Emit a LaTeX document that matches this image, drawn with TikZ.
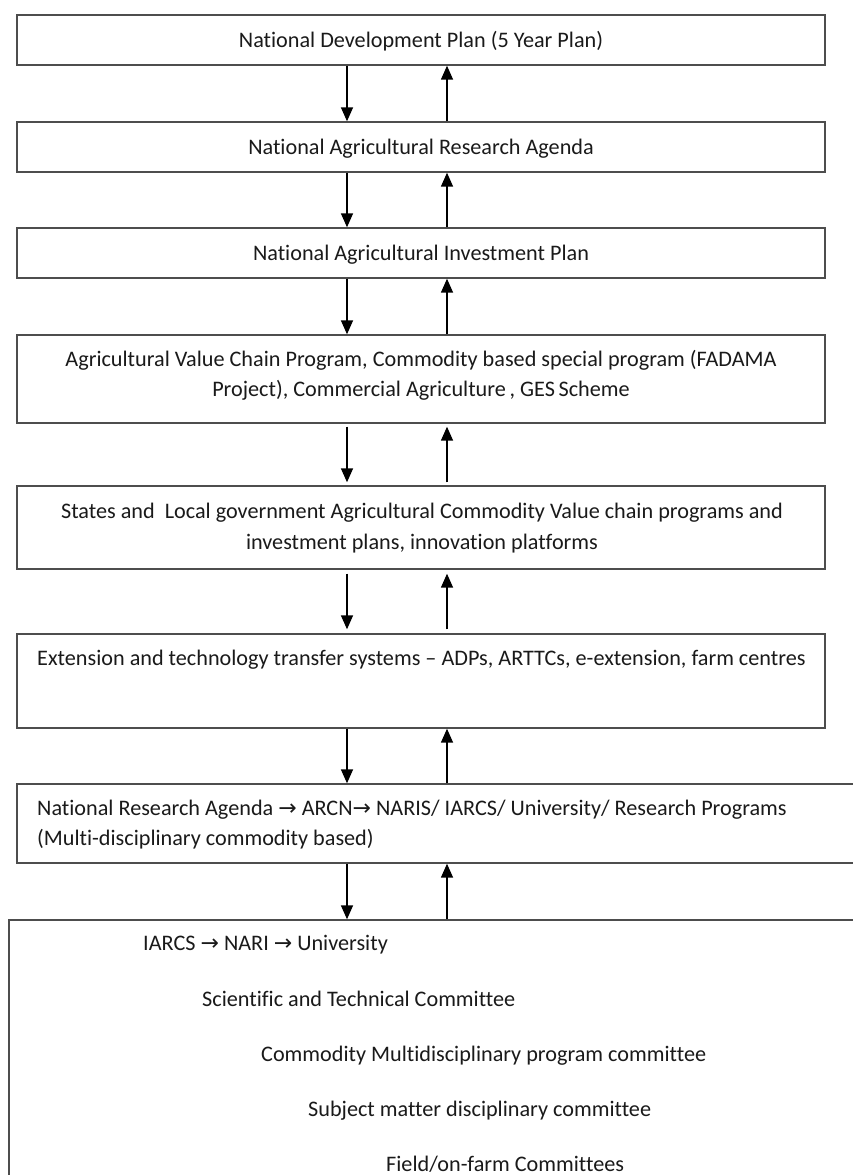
\documentclass[tikz,border=0pt]{standalone}
\usepackage{fontspec}
\setmainfont{Carlito}[Ligatures={NoCommon}]
\newfontfamily\arrowfont{DejaVu Sans}
\usetikzlibrary{arrows.meta}
\definecolor{boxgray}{HTML}{4D4D4D}
\definecolor{ink}{HTML}{1A1A1A}
\newcommand{\rarr}{{\arrowfont\fontsize{22}{22}\selectfont →}}

\begin{document}
\begin{tikzpicture}[x=1pt,y=-1pt,
  box/.style={draw=boxgray, line width=1.4pt, minimum width=808pt, inner sep=0pt},
  lbl/.style={inner sep=0pt, font=\fontsize{22.2}{32}\selectfont, text=ink},
  ctr/.style={lbl, anchor=base},
  lft/.style={lbl, anchor=base west},
  flow/.style={-{Triangle[length=14pt,width=12pt]}, line width=1.5pt, black}]

\useasboundingbox (0,0) rectangle (853,1175);
\clip (0,0) rectangle (853,1175);
\fill[white] (0,0) rectangle (853,1175);

% columns of the downward and upward arrows
\coordinate (dx) at (347,0);
\coordinate (ux) at (447,0);

% boxes
\node[box, minimum height=50pt] (b1) at (421,40) {};
\node[box, minimum height=50pt] (b2) at (421,147) {};
\node[box, minimum height=50pt] (b3) at (421,253) {};
\node[box, minimum height=88pt] (b4) at (421,379) {};
\node[box, minimum height=83pt] (b5) at (421,527.5) {};
\node[box, minimum height=94pt] (b6) at (421,681) {};
\node[box, minimum width=900pt, minimum height=79pt] (b7) at (467,823.5) {};
\node[box, minimum width=941pt, minimum height=330pt] (b8) at (479.5,1085) {};

% texts
\node[ctr] (t1) at (421,47) {National Development Plan (5 Year Plan)};
\node[ctr] (t2) at (421,154) {National Agricultural Research Agenda};
\node[ctr] (t3) at (421,260) {National Agricultural Investment Plan};
\node[ctr] (t4a) at (421,366) {Agricultural Value Chain Program, Commodity based special program (FADAMA};
\node[ctr] (t4b) at (421,396) {Project), Commercial Agriculture\,, GES\,Scheme};
\node[ctr] (t5a) at (422,518) {States and\ \ Local government Agricultural Commodity Value chain programs and};
\node[ctr] (t5b) at (422,549) {investment plans, innovation platforms};
\node[lft] (t6) at (37,665) {Extension and technology transfer systems – ADPs, ARTTCs, e-extension, farm centres};
\node[lft] (t7a) at (37,815) {National Research Agenda \rarr\ ARCN\rarr\ NARIS/ IARCS/ University/ Research Programs};
\node[lft] (t7b) at (37,845) {(Multi-disciplinary commodity based)};
\node[lft] (t8a) at (143,950) {IARCS \rarr\ NARI \rarr\ University};
\node[lft] (t8b) at (202,1006) {Scientific and Technical Committee};
\node[lft] (t8c) at (261,1061) {Commodity Multidisciplinary program committee};
\node[lft] (t8d) at (308,1116) {Subject matter disciplinary committee};
\node[lft] (t8e) at (386,1171) {Field/on-farm Committees};

% two-way links between successive levels
\foreach \a/\b/\g in {b1/b2/0, b2/b3/0, b3/b4/0, b4/b5/3, b5/b6/4, b6/b7/0, b7/b8/0}{
  \draw[flow, shorten <=\g pt, shorten >=\g pt] (\a.south -| dx) -- (\b.north -| dx);
  \draw[flow, shorten <=\g pt, shorten >=\g pt] (\b.north -| ux) -- (\a.south -| ux);
}
\end{tikzpicture}
\end{document}
